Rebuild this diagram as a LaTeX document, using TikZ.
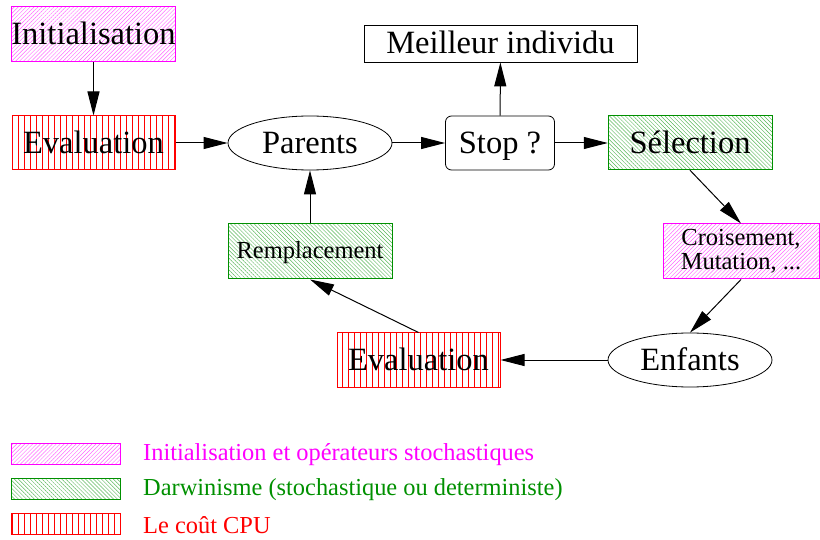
\documentclass[tikz,border=0pt]{standalone}
\usepackage{fontspec}
\setmainfont{Liberation Serif}
\usetikzlibrary{patterns.meta,arrows.meta,shapes.geometric}
\definecolor{fgreen}{RGB}{0,144,0}
\definecolor{fmag}{RGB}{255,0,255}
\definecolor{fred}{RGB}{255,0,0}
\tikzset{
  big/.style={font=\fontsize{32.5}{36}\selectfont, text height=24pt, text depth=3pt},
  small/.style={font=\fontsize{24.5}{26}\selectfont},
  leg/.style={font=\fontsize{24.4}{27}\selectfont, anchor=west, inner sep=0pt},
  magbox/.style={draw=fmag, line width=1pt, pattern={Lines[angle=45,distance=2.8pt,line width=0.45pt]}, pattern color=fmag!60, inner sep=0pt},
  grnbox/.style={draw=fgreen, line width=1pt, pattern={Lines[angle=-45,distance=2.8pt,line width=0.45pt]}, pattern color=fgreen!65, inner sep=0pt},
  redbox/.style={draw=fred, line width=1pt, pattern={Lines[angle=90,distance=6pt,line width=1pt]}, pattern color=fred, inner sep=0pt},
  ell/.style={draw, ellipse, line width=0.8pt, minimum width=164pt, minimum height=54pt, inner sep=0pt},
  arr/.style={line width=1pt, -{Triangle[length=24pt,width=12pt]}},
}
\begin{document}
\begin{tikzpicture}[x=1pt,y=-1pt]
\useasboundingbox (0,0) rectangle (820,540);
% nodes
\node[magbox, big, minimum width=163pt, minimum height=55pt] (init) at (93.5,34.5) {Initialisation};
\node[redbox, big, minimum width=163pt, minimum height=54pt] (ev1) at (93.5,143) {Evaluation};
\node[ell, big] (par) at (310,143) {Parents};
\node[draw, rounded corners=6pt, line width=0.8pt, big, minimum width=109pt, minimum height=54pt, inner sep=0pt] (stop) at (500,143) {Stop ?};
\node[draw, line width=0.8pt, big, minimum width=273pt, minimum height=37pt, inner sep=0pt] (best) at (500.5,43.5) {Meilleur individu};
\node[grnbox, big, minimum width=164pt, minimum height=54pt] (sel) at (690,143) {Sélection};
\node[magbox, small, minimum width=156pt, minimum height=55pt, align=center] (cro) at (741,251.5) {Croisement,\\[-2pt]Mutation, ...};
\node[ell, big] (enf) at (690,360) {Enfants};
\node[redbox, big, minimum width=163pt, minimum height=54pt] (ev2) at (418.5,360) {Evaluation};
\node[grnbox, small, text height=18pt, text depth=3pt, minimum width=164pt, minimum height=55pt] (rem) at (310,251.5) {Remplacement};
% connectors
\draw[arr] (init) -- (ev1);
\draw[arr] (ev1) -- (par);
\draw[arr] (par) -- (stop);
\draw[arr] (stop) -- (best);
\draw[arr] (stop) -- (sel);
\draw[arr] (sel.south) -- (cro.north);
\draw[arr] (cro.south) -- (enf.north);
\draw[arr] (enf) -- (ev2);
\draw[arr] (ev2.north) -- (rem.south);
\draw[arr] (rem) -- (par);
% legend
\node[magbox, minimum width=109pt, minimum height=21pt] (l1) at (66,453.5) {};
\node[grnbox, minimum width=109pt, minimum height=21pt] (l2) at (66,488.5) {};
\node[redbox, minimum width=109pt, minimum height=21pt] (l3) at (66,523.5) {};
\node[leg, text=fmag] (t1) at (143,455) {Initialisation et opérateurs stochastiques};
\node[leg, text=fgreen] (t2) at (143,490) {Darwinisme (stochastique ou deterministe)};
\node[leg, text=fred] (t3) at (143,525) {Le coût CPU};
\end{tikzpicture}
\end{document}
